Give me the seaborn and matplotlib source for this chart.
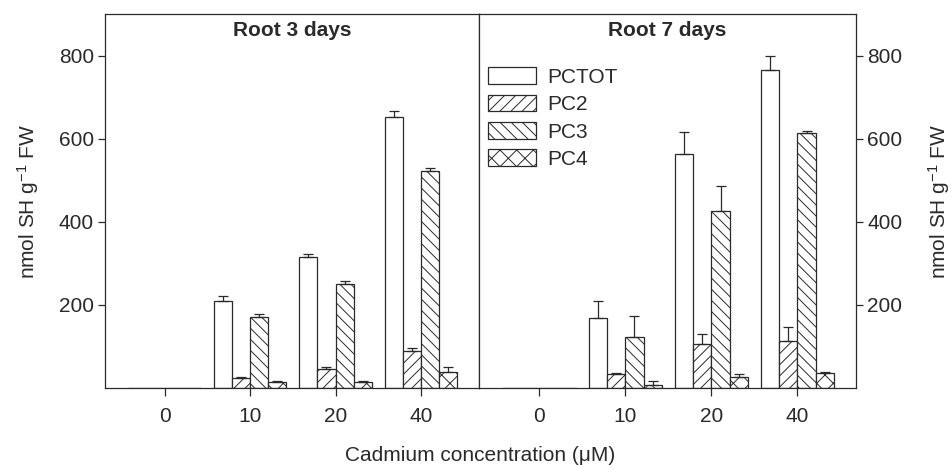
import numpy as np
import pandas as pd
import seaborn as sns
import matplotlib
matplotlib.use("Agg")
import matplotlib.pyplot as plt
from matplotlib.patches import Patch

# ---- data ----
concentrations = ["0", "10", "20", "40"]
series = ["PCTOT", "PC2", "PC3", "PC4"]
hatches = {"PCTOT": "", "PC2": "///", "PC3": "\\\\\\", "PC4": "xx"}

# Root 3 days
d3_pctot = [0, 210, 316, 653]
d3_pctot_err = [0, 12, 7, 13]
d3_pc2 = [0, 25, 46, 90]
d3_pc2_err = [0, 2, 4, 7]
d3_pc3 = [0, 170, 251, 522]
d3_pc3_err = [0, 7, 7, 7]
d3_pc4 = [0, 14, 15, 38]
d3_pc4_err = [0, 2, 3, 13]

# Root 7 days
d7_pctot = [0, 168, 562, 766]
d7_pctot_err = [0, 41, 54, 34]
d7_pc2 = [0, 33, 107, 113]
d7_pc2_err = [0, 2, 22, 34]
d7_pc3 = [0, 122, 427, 614]
d7_pc3_err = [0, 51, 59, 4]
d7_pc4 = [0, 8, 26, 36]
d7_pc4_err = [0, 9, 8, 3]

panel_titles = ["Root 3 days", "Root 7 days"]
y_ticks = [200, 400, 600, 800]
ylabel = "nmol SH g$^{-1}$ FW"
xlabel = "Cadmium concentration (\u03bcM)"


def build(vals, errs):
    rows = []
    for s, v, e in zip(series, vals, errs):
        for c, vv, ee in zip(concentrations, v, e):
            rows.append({"conc": c, "series": s, "value": vv, "err": ee})
    return pd.DataFrame(rows)


df3 = build([d3_pctot, d3_pc2, d3_pc3, d3_pc4],
            [d3_pctot_err, d3_pc2_err, d3_pc3_err, d3_pc4_err])
df7 = build([d7_pctot, d7_pc2, d7_pc3, d7_pc4],
            [d7_pctot_err, d7_pc2_err, d7_pc3_err, d7_pc4_err])

# ---- style ----
sns.set_style("ticks")
ink = "#2a2a2a"
plt.rcParams["font.family"] = ["Liberation Sans", "DejaVu Sans"]
plt.rcParams["hatch.linewidth"] = 0.7
plt.rcParams["hatch.color"] = ink
plt.rcParams["mathtext.fontset"] = "custom"
plt.rcParams["mathtext.rm"] = "Liberation Sans"
plt.rcParams["mathtext.default"] = "regular"

fig = plt.figure(figsize=(9.51, 4.69), dpi=100)
L, R, M = 105 / 951, 856 / 951, 479 / 951
B, T = 1 - 388 / 469, 1 - 14 / 469
ax1 = fig.add_axes([L, B, M - L, T - B])
ax2 = fig.add_axes([M, B, R - M, T - B])

fs = 15
for ax, df, title in [(ax1, df3, panel_titles[0]), (ax2, df7, panel_titles[1])]:
    sns.barplot(data=df, x="conc", y="value", hue="series", order=concentrations,
                hue_order=series, width=0.85, errorbar=None, ax=ax, legend=False,
                palette={s: "white" for s in series}, saturation=1,
                edgecolor=ink, linewidth=0.9)
    for s, cont in zip(series, ax.containers):
        sub = df[df["series"] == s].set_index("conc").loc[concentrations]
        for patch, (v, e) in zip(cont.patches, zip(sub["value"], sub["err"])):
            patch.set_hatch(hatches[s])
            patch.set_edgecolor(ink)
            if v > 0 and e > 0:
                xc = patch.get_x() + patch.get_width() / 2
                ax.errorbar([xc], [v], yerr=[[0], [e]], fmt="none", ecolor=ink,
                            elinewidth=0.9, capsize=3.6, capthick=0.9, zorder=1)
    ax.set_xlim(-0.7, 3.68)
    ax.set_ylim(0, 900)
    ax.set_xlabel("")
    ax.set_yticks(y_ticks)
    ax.text(0.5, 0.955, title, transform=ax.transAxes, ha="center", va="center",
            fontsize=fs, fontweight="bold", color=ink)
    for sp in ax.spines.values():
        sp.set_visible(True)
        sp.set_color(ink)
        sp.set_linewidth(0.9)
    ax.tick_params(axis="both", direction="out", length=5, width=0.9, color=ink,
                   labelsize=fs, labelcolor=ink, pad=3)
    ax.tick_params(axis="x", length=6, pad=8)

ax1.set_ylabel(ylabel, fontsize=fs, color=ink, labelpad=13)
ax1.yaxis.set_ticks_position("left")
ax2.yaxis.set_ticks_position("right")
ax2.yaxis.set_label_position("right")
ax2.set_ylabel(ylabel, fontsize=fs, color=ink, labelpad=17)

handles = [Patch(facecolor="white", edgecolor=ink, hatch=hatches[s], linewidth=0.9, label=s)
           for s in series]
ax2.legend(handles=handles, loc="upper left", bbox_to_anchor=(-0.014, 0.897),
           frameon=False, fontsize=fs, handlelength=2.3, handleheight=0.85,
           labelspacing=0.38, handletextpad=0.55, borderaxespad=0.3, labelcolor=ink)

fig.text((L + R) / 2, 1 - 455 / 469, xlabel, ha="center", va="center",
         fontsize=fs, color=ink)

fig.savefig("out.png", dpi=100)
